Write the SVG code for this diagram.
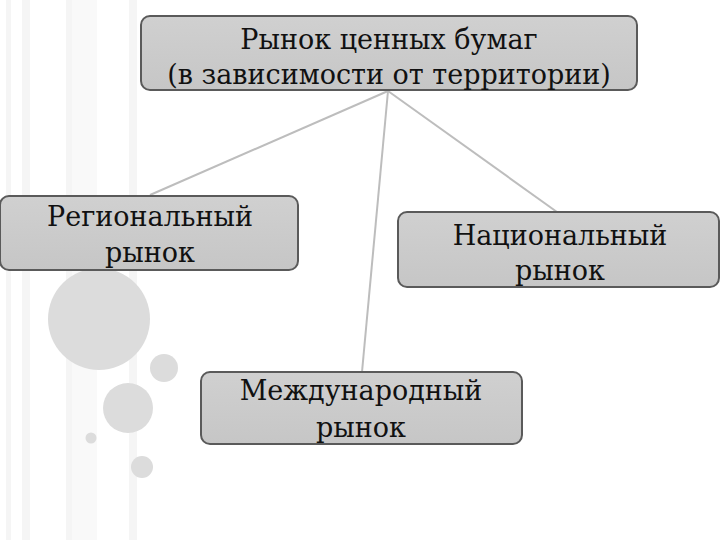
<svg xmlns="http://www.w3.org/2000/svg" width="720" height="540" viewBox="0 0 720 540">
<defs>
<linearGradient id="boxg" x1="0" y1="0" x2="0" y2="1">
<stop offset="0" stop-color="#d0d0d0"/>
<stop offset="1" stop-color="#c6c6c6"/>
</linearGradient>
<style>
.box{fill:url(#boxg);stroke:#5a5a5a;stroke-width:2}
.t{font-family:"DejaVu Serif","Liberation Serif",serif;font-size:27px;fill:#111;text-anchor:middle}
.c{stroke:#bdbdbd;stroke-width:2;fill:none}
.st{fill:#f5f5f5}
.circ{fill:#dcdcdc}
</style>
</defs>
<rect width="720" height="540" fill="#ffffff"/>
<g id="background">
<rect class="st" x="6" y="0" width="5" height="540"/>
<rect class="st" x="22" y="0" width="8" height="540"/>
<rect class="st" x="66" y="0" width="6" height="540"/>
<rect class="st" x="72" y="0" width="25" height="540" opacity="0.6"/>
<rect class="st" x="129" y="0" width="8" height="540"/>
<circle class="circ" cx="99" cy="319" r="51"/>
<circle class="circ" cx="164" cy="368" r="14"/>
<circle class="circ" cx="128" cy="408" r="25"/>
<circle class="circ" cx="91" cy="438" r="5.5"/>
<circle class="circ" cx="142" cy="467" r="11"/>
</g>
<g id="connectors">
<line class="c" x1="388" y1="91" x2="150" y2="195"/>
<line class="c" x1="388" y1="91" x2="557" y2="212"/>
<line class="c" x1="388" y1="91" x2="362" y2="372"/>
</g>
<g id="root">
<rect class="box" x="141" y="16" width="496" height="74" rx="9"/>
<text class="t" x="389" y="49">Рынок ценных бумаг</text>
<text class="t" x="389" y="84">(в зависимости от территории)</text>
</g>
<g id="regional">
<rect class="box" x="0" y="196" width="298" height="74" rx="9"/>
<text class="t" x="150" y="226">Региональный</text>
<text class="t" x="150" y="262">рынок</text>
</g>
<g id="national">
<rect class="box" x="398" y="212" width="321" height="75" rx="9"/>
<text class="t" x="560" y="245">Национальный</text>
<text class="t" x="560" y="280">рынок</text>
</g>
<g id="international">
<rect class="box" x="201" y="372" width="321" height="72" rx="9"/>
<text class="t" x="361" y="400">Международный</text>
<text class="t" x="361" y="437">рынок</text>
</g>
</svg>
